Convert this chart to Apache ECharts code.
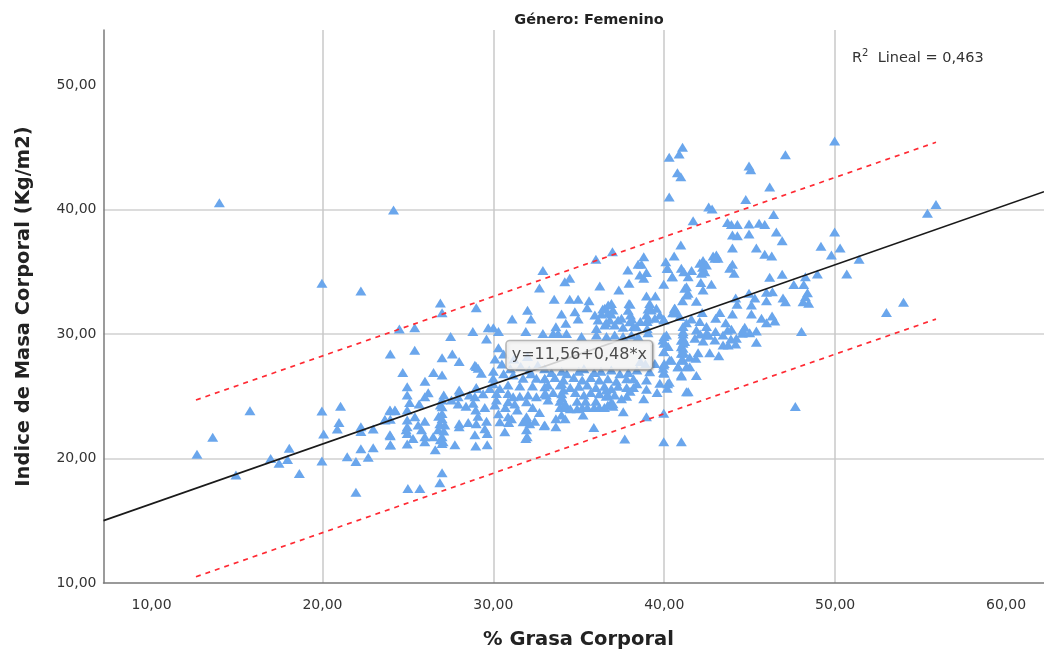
<!DOCTYPE html>
<html><head><meta charset="utf-8">
<script src="https://cdn.jsdelivr.net/npm/echarts@6/dist/echarts.min.js"></script>
<style>html,body{margin:0;padding:0;background:#fff}#c{width:1044px;height:656px}</style>
</head><body><div id="c"></div>
<script>
const chartTitle = 'Género: Femenino';
const xAxisName = '% Grasa Corporal';
const yAxisName = 'Indice de Masa Corporal (Kg/m2)';
const xTicks = [10,20,30,40,50,60];
const yTicks = [10,20,30,40,50];
const fitLine = [[7.19,15.01],[62.22,41.43]];
const upperBand = [[12.6,24.7],[55.9,45.4]];
const lowerBand = [[12.6,10.5],[55.9,31.2]];
const equationPoint = [[35.03,28.3]];
const equationText = 'y=11,56+0,48*x';

const pointsLeft = [
[13.97,40.55],[24.16,39.96],[19.97,34.07],[22.25,33.45],[23.97,28.4],[15.76,23.84],[19.97,23.82],[21.06,24.2],[20.97,22.9],[20.87,22.37],[20.07,21.97],[13.58,21.7],[12.66,20.34],[18.06,20.82],[16.97,20],[17.46,19.61],[17.96,19.93],[19.97,19.8],[14.94,18.67],[18.65,18.8],[22.25,22.56],[22.25,22.16],[22.97,22.37],[22.25,20.79],[22.97,20.87],[21.45,20.15],[21.96,19.75],[22.68,20.1],[21.96,17.28],[23.97,23.84],[24.26,23.84],[23.66,23.09],[23.97,23.15],[23.97,21.83],[23.97,21.08],
[24.5,30.4],[25.4,30.5],[25.4,28.7],[24.7,26.9],[24.96,25.77],[24.96,25.1],[24.96,23.9],[23.95,23.9],[24.24,23.9],[23.65,23.14],[24.96,23.1],[24.96,22.55],[24.96,22],[25.41,23.36],[25.6,22.7],[25.8,22.3],[25.99,23],[25.99,21.75],[25.99,21.35],[23.95,21.9],[23.98,21.1],[24.96,21.16],[26.48,21.75],[25.99,24.96],[25.66,24.37],[26.19,25.28],[26,26.2],[26.5,26.9],[27,26.7],[27,28.1],[27.6,28.4],[28,27.8],[26.9,32.5],[27,31.7],[29,32.1],[28.8,30.2],[29.7,30.5],[30,30.5],[30.3,30.2],[27.5,29.8],[29.6,29.6],[30.3,28.9],[30.1,28],[29,27.4],[28.92,27.5],[29.11,27.24],[29.3,26.84],[30,27],
[27,24.7],[27,24.16],[27,23.62],[27,23.2],[26.87,22.8],[27.16,22.7],[26.77,22.3],[27,21.75],[27.06,21.35],[26.6,20.7],[27,21.2],[27.75,21.1],[28.97,21],[29.64,21.1],[29.64,22],[28.92,21.9],[29,22.8],[28.53,22.9],[28,22.8],[28,22.55],[27,18.86],[26.87,18.06],[25.7,17.6],[25,17.6],[28.04,25.36],[27.94,24.96],[27.55,24.7],[29.01,25.63],[28.92,24.96],[29.79,25.63],[28.82,24.43],[29.5,24.1],[28.97,23.9],[27.94,24.37],[28,25.5],[29,25.7],[30.09,24.3],[29.99,26.44],[29.99,26],
[30.38,25.63],[30.18,25.23],[30.18,24.7],[30.86,25.9],[30.86,25.23],[31.16,26.7],[31.16,24.96],[31.55,25.82],[31.55,25],[31.74,26.44],[32.03,25.1],[32.29,25.82],[32.52,26.44],[32.52,24.96],[33.01,26.44],[33.01,25.77],[33.1,25.1],[30.86,24.56],[31.25,24.37],[31.94,24.56],[30.86,23.36],[30.38,22.95],[31.06,23.2],[30.67,22.15],[31.94,23.36],[31.74,22.95],[32.13,22.8],[32.42,23],[33.01,22.7],[31.94,22.3],[31.98,21.75],[32.9,35.1],[32.7,33.7],[32,31.9],[31.1,31.2],[32.2,31.2],[31.9,30.2],[30.5,27.6],[31,27.2],[31.6,27.4],[32.1,27.1],[32.6,27.5],[30.6,26.8],[32.2,26.8],[31.2,28],[32,28.2],[30.6,28.4],
[26.9,24.3],[27.1,25.1],[26.8,23.4],[27.1,22.2],[26.9,21.5],[25.1,24.5],[24.9,22.3],[25.3,21.6],[29.1,23.4],[29.6,23],[29.5,22.4],[30.3,23.6],[28.4,24.2],[28.6,25.1],[29.4,25.2],[30.7,24.1],[31.4,23.9],[32.3,24.1],[32.7,23.7],[31.9,21.6],[31.9,23.1],[30.9,22.9]
];
const pointsCentre = [
[33,27.2],[33.4,26.9],[34,27],[34.3,26.8],[35,27],[35.3,27.2],[35.9,26.9],[36.3,27],[36.9,27.1],[37.4,26.8],[37.9,26.9],[38.4,27.1],[33,26.4],[33.6,26.5],[34.1,26.3],[34.7,26.5],[35.2,26.3],[35.7,26.5],[36.2,26.3],[36.7,26.4],[37.2,26.2],[37.8,26.4],[38.2,26.4],[33.2,25.9],[33.9,25.9],[34.5,25.7],[35,25.8],[35.5,25.9],[36,25.7],[36.5,25.8],[36.9,25.6],[37.3,25.8],[37.8,25.7],[38.2,25.7],[33,25.2],[33.5,25.3],[34,25.2],[34.8,25.3],[35.3,25.1],[35.7,25.3],[36.2,25.2],[36.7,25.1],[37.1,25.1],[37.8,25],[33.2,24.7],[33.9,24.6],[34.9,24.6],[35.4,24.6],[36,24.6],[36.9,24.5],[33.9,24.1],[34.2,24.1],[34.5,24],[34.9,24],[35.2,24.1],[35.5,24.1],[35.9,24.1],[36.2,24.1],[36.5,24.1],[36.7,24.3],[37,24.2],[37,24.4],[33.99,23.5],[33.66,23.2],[34.2,23.2],[35.25,23.5],[37.6,23.76],[38.96,23.36],[35.88,22.5],[32.97,22.64],[33.66,22.56],[37.69,21.57],
[36.97,36.61],[38.8,36.2],[36,36],[38.67,35.6],[38.47,35.6],[38.96,34.95],[38.57,34.74],[38.8,34.47],[37.87,35.14],[34.18,34.2],[34.47,34.47],[37.94,34.07],[36.23,33.86],[37.34,33.53],[38.96,33.05],[39.48,33.05],[33.56,32.8],[34.47,32.8],[34.96,32.8],[35.6,32.68],[35.49,32.1],[37.94,32.46],[37.89,31.9],[38.02,31.53],[36.91,32.46],[36.72,32.33],[36.52,32.06],[37,31.93],[36.72,31.71],[36.33,31.6],[35.94,31.53],[36.13,31.13],[36.81,31.13],[36.52,30.72],[39.15,32.46],[39.54,32.06],[39.25,31.93],[38.96,31.53],[39,31],[39,30.45],[39.45,31.26],[39.74,31.53],[33.99,31.6],[34.77,31.79],[34.96,31.2],[34.24,30.86],[37.3,31.13],[37.5,31.26],[37.1,30.72],[37.98,30.99],[38.37,30.59],[37.59,30.54],[33.66,30.59],[33.5,30.05],[33.79,30.05],[34.28,30.05],[32.9,30.05],[35.16,29.8],[36.03,30.45],[36.03,29.92],[36.62,29.8],[37.1,29.92],[37.59,29.8],[38.08,29.92],[38.47,29.8],[39.45,27.64],[39.15,26.97],[39.93,27.24],[40.2,26],[38.96,26.3],[38.96,25.56],[39.58,25.3],[39.74,26.04],[38.6,27.8],[38.9,27.6],
[36.4,32],[36.9,31.6],[36.6,30.9],[38,32.4],[38.1,31.2],[38.2,30.6],[39.05,32],[39.05,31.2],[39.05,30.1],[38.6,31],[34,26],[34.1,25.5],[34,24.9],[34.2,24.4],[36.6,25.5],[36.6,25],[37.5,24.8],[38,25.4],[38.4,26],[38.8,24.8]
];
const pointsRight = [
[49.97,45.5],[41.07,45],[40.87,44.46],[40.29,44.2],[47.09,44.4],[44.96,43.5],[45.06,43.2],[40.77,42.96],[40.97,42.64],[46.17,41.8],[40.29,41],[44.77,40.8],[42.6,40.2],[42.8,40.04],[46.4,39.6],[41.69,39.1],[43.7,38.95],[43.93,38.8],[44.28,38.8],[44.96,38.84],[45.55,38.9],[45.88,38.8],[46.56,38.2],[49.97,38.2],[43.99,37.96],[44.28,37.9],[44.96,38.04],[46.9,37.5],[40.97,37.15],[43.99,36.9],[45.39,36.9],[49.17,37.05],[50.29,36.9],[40.58,36.27],[45.88,36.4],[46.29,36.27],[49.78,36.35],[42.86,36.27],[43.05,36.35],[43.15,36.08],[42.96,36.08],[51.4,36],[40.09,35.8],[42.08,35.68],[42.27,35.9],[42.47,35.55],[42.24,35.36],[42.37,35],[42.18,34.88],[41,35.28],[41.14,35],[41.4,34.6],[41.6,35.1],[40.17,35.28],[40.48,34.6],[43.99,35.6],[43.83,35.28],[44.09,34.88],[46.17,34.56],[46.9,34.8],[48.26,34.6],[48.96,34.82],[50.68,34.82],[47.58,33.97],[48.16,33.97],[39.97,34],[42.14,34.13],[42.76,34],[41.3,33.8],[42.27,33.54],[41.4,33.27],[48.38,33.32],[44.96,33.27],[44.18,32.9],[45.3,32.9],[45.98,33.35],[46.33,33.4],[46.95,32.9],[41.07,32.68],[41.88,32.63],[45.98,32.68],[47.09,32.6],[48.12,32.6],[48.45,32.47],[48.26,33],[44.26,32.4],[45.1,32.33],[40.62,32.06],[40.52,31.72],[54,32.55],[53,31.72],[42.22,31.72],[43.25,31.72],[43.99,31.6],[45.1,31.6],[40.91,31.4],[39.97,31.18],[41.59,31.2],[43.01,31.26],[45.69,31.26],[46.31,31.45],[46.47,31.05],[45.98,30.9],[42.08,31],[43.6,30.9],[42.47,30.6],[41.88,30.33],[41.1,30.2],[43.93,30.38],[44.71,30.54],[45.39,30.25],[48.03,30.2],[44.57,30.06],[45,30.1],[43.44,29.92],[42.47,30.06],[41.79,29.66],[42.27,29.44],[42.96,29.52],[43.44,29.12],[43.74,29.12],[44.22,29.66],[44.18,29.2],[45.39,29.33],[41.1,29.66],[41.1,29.26],[41.1,28.86],[41.1,28.45],[41.1,27.92],[40.13,29.92],[39.93,29.52],[40.23,28.99],[39.97,28.59],[40.32,27.92],[41.98,28.5],[42.66,28.5],[43.19,28.26],[41.49,28.13],[41.85,28.05],[40.81,27.38],[41.49,27.38],[41.01,26.63],[41.88,26.66],[39.97,27.51],[39.97,26.9],[40.29,26.12],[40.17,25.64],[41.4,25.37],[39.97,23.63],[47.67,24.17],[55.4,39.7],[55.9,40.4],[40.2,35.27],[40.46,34.6],[41.2,33.67],[41.3,33.13],[40.6,32.06],[40.5,31.71],[40.7,31.71],[39.99,31.13],[39.99,29.8],[39.99,29.25],[39.99,28.58],[40.42,27.9],[40,27.64],[40,26.84],[41,29.5],[41,28.98],[41,28.45],[41,27.9],[40.8,27.38],[41.3,27.38],[41,26.7],[41.3,25.37],[39.97,21.35],[41,21.35],
[41.1,30.6],[41.1,30],[41.2,29.4],[41.1,28.6],[41.3,30.9],[42.1,30],[42.6,29.9],[43,30.2],[43.7,30.3],[43.9,29.6],[44.6,30.3]
];

const fmt = v => v.toFixed(2).replace('.', ',');
const fontFamily = '"DejaVu Sans", sans-serif';
const textColor = '#333333';
const chart = echarts.init(document.getElementById('c'), null, {renderer:'canvas'});
const splitX = {show:true, showMinLine:false, showMaxLine:false, lineStyle:{color:'#c9c9c9', width:1.5}};
const splitY = {show:true, showMinLine:false, showMaxLine:false, lineStyle:{color:'#dcdcdc', width:2}};
const axisLine = {show:true, onZero:false, lineStyle:{color:'#7a7a7a', width:1.5}};
const lineSeries = (name, data, color, type, width, z) => ({
  name, type:'line', data, symbol:'none', silent:true, z, clip:true,
  lineStyle:{color, type, width}
});
chart.setOption({
  animation:false,
  backgroundColor:'#fff',
  title:{text:chartTitle, left:584, top:8, textAlign:'center',
    textStyle:{fontFamily, fontSize:14.5, fontWeight:'bold', color:'#222'}},
  grid:{left:103.5, right:0, top:30, bottom:73},
  xAxis:{type:'value', min:7.19, max:62.22,
    axisLine, axisTick:{show:false, customValues:xTicks},
    axisLabel:{customValues:xTicks, formatter:fmt, fontFamily, fontSize:14, color:textColor, margin:15},
    splitLine:splitX},
  yAxis:{type:'value', min:10, max:54.42, name:yAxisName, nameLocation:'middle', nameGap:70,
    nameTextStyle:{fontFamily, fontSize:19.5, fontWeight:'bold', color:'#222'},
    axisLine, axisTick:{show:false, customValues:yTicks},
    axisLabel:{customValues:yTicks, formatter:fmt, fontFamily, fontSize:14, color:textColor, margin:7, padding:[8,0,0,0]},
    splitLine:splitY},
  graphic:[
   {type:'text', left:852, top:48, z:50, style:{
    rich:{r:{fontFamily,fontSize:14.5,fill:textColor,lineHeight:18,verticalAlign:'bottom'},
          s:{fontFamily,fontSize:10,fill:textColor,verticalAlign:'top',lineHeight:18}},
    text:'{r|R}{s|2}{r|  Lineal = 0,463}'}},
   {type:'text', x:578.5, y:640, z:50, style:{
    text:xAxisName, fontFamily, fontSize:19.5, fontWeight:'bold', fill:'#222', align:'center', verticalAlign:'middle'}}
  ],
  series:[
    {name:'puntos', type:'scatter', data:[...pointsLeft, ...pointsCentre, ...pointsRight], symbol:'triangle', symbolSize:[11,9],
     itemStyle:{color:'#6aa6ec', opacity:1}, z:2, silent:true},
    lineSeries('ajuste', fitLine, '#1a1a1a', 'solid', 1.6, 4),
    lineSeries('superior', upperBand, '#ff2a33', [5,5], 1.7, 3),
    lineSeries('inferior', lowerBand, '#ff2a33', [5,5], 1.7, 3),
    {name:'ecuacion', type:'scatter', data:equationPoint, symbolSize:0, z:10, silent:true,
     label:{show:true, position:'inside', formatter:equationText, fontFamily, fontSize:16, color:'#222',
       backgroundColor:'#fff', borderColor:'#aaa', borderWidth:1.5, borderRadius:3, padding:[6,5,6,5],
       shadowColor:'rgba(0,0,0,0.25)', shadowBlur:2, shadowOffsetX:1, shadowOffsetY:1}}
  ]
});
</script></body></html>
